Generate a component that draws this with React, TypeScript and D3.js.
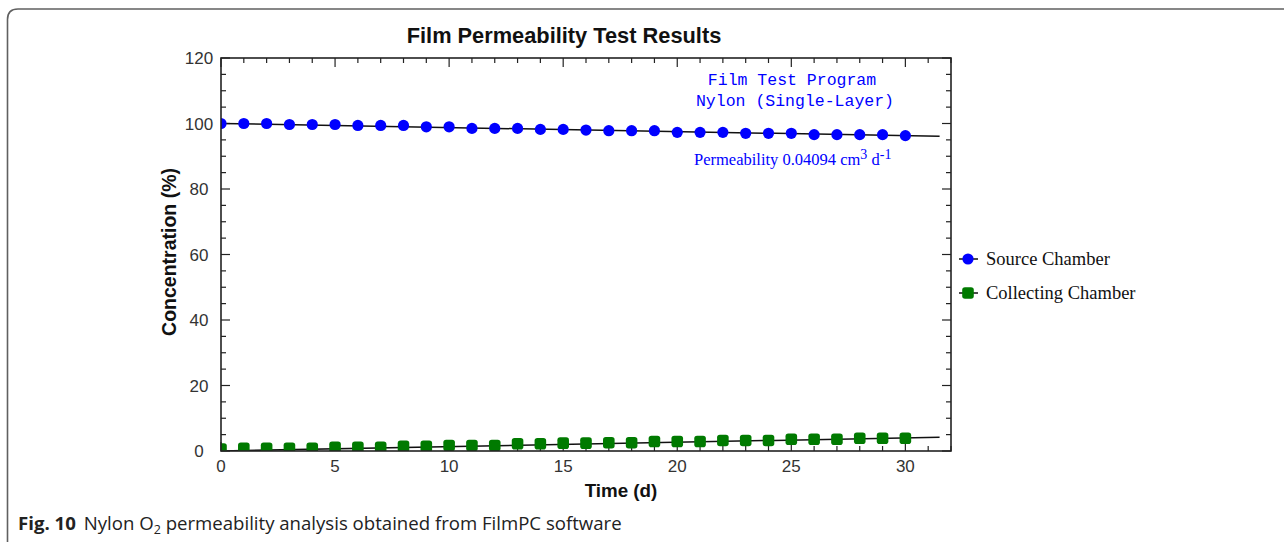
import React from "react";
import * as d3 from "d3";

// Days sampled (0..30)
const days: number[] = Array.from({ length: 31 }, (_, i) => i);

// Measured concentrations (%)
const sourceValues: number[] = [
  100, 100, 100, 99.7, 99.7, 99.7, 99.4, 99.4, 99.4, 99.0, 99.0, 98.5, 98.5, 98.5, 98.2, 98.2,
  98.0, 97.8, 97.8, 97.8, 97.3, 97.3, 97.3, 97.0, 97.0, 97.0, 96.6, 96.6, 96.6, 96.6, 96.3,
];
const collectingValues: number[] = [
  0.6, 0.85, 0.85, 0.85, 0.85, 1.15, 1.15, 1.15, 1.45, 1.45, 1.7, 1.7, 1.7, 2.2, 2.2, 2.4,
  2.4, 2.5, 2.5, 2.9, 2.9, 2.9, 3.2, 3.2, 3.2, 3.6, 3.6, 3.6, 3.9, 3.9, 3.9,
];

// Model fit lines [day, %]
const sourceFit: [number, number][] = [[0, 100], [31.5, 96.1]];
const collectingFit: [number, number][] = [[0, 0], [31.5, 4.2]];

const xTickLabels: number[] = [0, 5, 10, 15, 20, 25, 30];
const yTickLabels: number[] = [0, 20, 40, 60, 80, 100, 120];

const title = "Film Permeability Test Results";
const notesMono = ["Film Test Program", "Nylon (Single-Layer)"];
const legendLabels = ["Source Chamber", "Collecting Chamber"];

const W = 1284;
const H = 542;
const plot = { left: 221, right: 951, top: 58, bottom: 451 };

const BLUE = "#0000ff";
const GREEN = "#007a00";

export default function App() {
  const x = d3.scaleLinear().domain([0, 32]).range([plot.left, plot.right]);
  const y = d3.scaleLinear().domain([0, 120]).range([plot.bottom, plot.top]);

  const line = d3
    .line<[number, number]>()
    .x((d) => x(d[0]))
    .y((d) => y(d[1]));

  const xMinor = d3.range(0, 33, 1);
  const yMinor = d3.range(0, 121, 5);

  const sans = "Arial, 'Liberation Sans', Helvetica, sans-serif";
  const serif = "'Times New Roman', 'Liberation Serif', serif";
  const mono = "'Courier New', 'Liberation Mono', monospace";

  return (
    <svg
      width={W}
      height={H}
      viewBox={`0 0 ${W} ${H}`}
      style={{ position: "absolute", left: 0, top: 0, background: "#fff" }}
    >
      <defs>
        <clipPath id="plotClip">
          <rect x={plot.left} y={plot.top} width={plot.right - plot.left} height={plot.bottom - plot.top} />
        </clipPath>
      </defs>

      {/* figure frame */}
      <path
        d={`M ${W + 5} 9 L 18 9 Q 7.5 9 7.5 19.5 L 7.5 ${H + 5}`}
        fill="none"
        stroke="#606060"
        strokeWidth={1.6}
      />

      {/* title */}
      <text x={564} y={43} textAnchor="middle" fontFamily={sans} fontWeight="bold" fontSize={21.8} fill="#111">
        {title}
      </text>

      {/* ticks (inward) */}
      <g stroke="#222" strokeWidth={1.2}>
        {xMinor.map((t) => {
          const len = t % 5 === 0 ? 9 : 5;
          return (
            <g key={`xt${t}`}>
              <line x1={x(t)} x2={x(t)} y1={plot.bottom} y2={plot.bottom - len} />
              <line x1={x(t)} x2={x(t)} y1={plot.top} y2={plot.top + len} />
            </g>
          );
        })}
        {yMinor.map((v) => {
          const len = v % 20 === 0 ? 9 : 5;
          return (
            <g key={`yt${v}`}>
              <line x1={plot.left} x2={plot.left + len} y1={y(v)} y2={y(v)} />
              <line x1={plot.right} x2={plot.right - len} y1={y(v)} y2={y(v)} />
            </g>
          );
        })}
      </g>

      {/* fit lines and markers */}
      <g clipPath="url(#plotClip)">
        <path d={line(sourceFit) || ""} fill="none" stroke="#111" strokeWidth={1.5} />
        <path d={line(collectingFit) || ""} fill="none" stroke="#111" strokeWidth={1.5} />

        {days.map((d, i) => (
          <circle key={`s${d}`} cx={x(d)} cy={y(sourceValues[i])} r={5.6} fill={BLUE} />
        ))}
        {days.map((d, i) => (
          <rect
            key={`c${d}`}
            x={x(d) - 5.8}
            y={y(collectingValues[i]) - 5.8}
            width={11.6}
            height={11.6}
            rx={2.8}
            fill={GREEN}
          />
        ))}
      </g>

      {/* plot frame */}
      <rect
        x={plot.left}
        y={plot.top}
        width={plot.right - plot.left}
        height={plot.bottom - plot.top}
        fill="none"
        stroke="#222"
        strokeWidth={1.6}
      />

      {/* tick labels */}
      <g fontFamily={sans} fontSize={17} fill="#333">
        {xTickLabels.map((t) => (
          <text key={`xl${t}`} x={x(t)} y={472} textAnchor="middle">
            {t}
          </text>
        ))}
        {yTickLabels.map((v) => (
          <text key={`yl${v}`} x={199} y={y(v) + 6} textAnchor="middle">
            {v}
          </text>
        ))}
      </g>

      {/* axis titles */}
      <text x={621} y={497} textAnchor="middle" fontFamily={sans} fontWeight="bold" fontSize={18.8} fill="#111">
        Time (d)
      </text>
      <text
        transform={`translate(176, 252) rotate(-90)`}
        textAnchor="middle"
        fontFamily={sans}
        fontWeight="bold"
        fontSize={19.5}
        fill="#111"
      >
        Concentration (%)
      </text>

      {/* annotation */}
      <g fontFamily={mono} fontSize={16.5} fill={BLUE} textAnchor="middle">
        <text x={792} y={85}>{notesMono[0]}</text>
        <text x={795} y={106}>{notesMono[1]}</text>
      </g>
      <text x={694} y={165} fontFamily={serif} fontSize={16.5} fill={BLUE}>
        Permeability 0.04094 cm
        <tspan dy={-6} fontSize={14}>3</tspan>
        <tspan dy={6}> d</tspan>
        <tspan dy={-6} fontSize={14}>-1</tspan>
      </text>

      {/* legend */}
      <g>
        <line x1={959} x2={978} y1={259} y2={259} stroke="#111" strokeWidth={1.5} />
        <circle cx={968} cy={259} r={5.6} fill={BLUE} />
        <text x={986} y={265} fontFamily={serif} fontSize={18.5} fill="#111">
          {legendLabels[0]}
        </text>
        <line x1={959} x2={978} y1={293} y2={293} stroke="#111" strokeWidth={1.5} />
        <rect x={962.2} y={287.2} width={11.6} height={11.6} rx={2.8} fill={GREEN} />
        <text x={986} y={299} fontFamily={serif} fontSize={18.5} fill="#111">
          {legendLabels[1]}
        </text>
      </g>

      {/* caption */}
      <text x={18} y={530} fontFamily="'Open Sans', 'Noto Sans', sans-serif" fontSize={18.6} fill="#222">
        <tspan fontWeight="bold">Fig. 10</tspan>
        <tspan dx={8}>Nylon O</tspan>
        <tspan dy={4} fontSize={12.5}>2</tspan>
        <tspan dy={-4}> permeability analysis obtained from FilmPC software</tspan>
      </text>
    </svg>
  );
}
